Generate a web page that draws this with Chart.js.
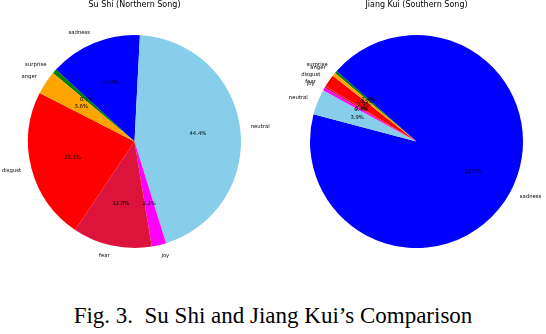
<!DOCTYPE html>
<html>
<head>
<meta charset="utf-8">
<script src="https://cdn.jsdelivr.net/npm/chart.js@4.4.1/dist/chart.umd.min.js"></script>
<style>
  html, body { margin: 0; padding: 0; background: #fff; }
  #wrap { position: relative; width: 546px; height: 334px; overflow: hidden; }
  canvas { position: absolute; top: 0; }
  #left { left: 0; }
  #right { left: 273px; }
  #caption {
    position: absolute; left: 0; width: 546px; top: 303px;
    text-align: center; font-family: "Liberation Serif", "Times New Roman", serif;
    font-size: 23px; color: #000; white-space: pre;
  }
</style>
</head>
<body>
<div id="wrap">
  <canvas id="left" width="273" height="283"></canvas>
  <canvas id="right" width="273" height="283"></canvas>
  <div id="caption">Fig. 3.  Su Shi and Jiang Kui’s Comparison</div>
</div>
<script>
// emotion categories (alphabetical, counter-clockwise from 140deg like the source figure)
const emotions = ['anger', 'disgust', 'fear', 'joy', 'neutral', 'sadness', 'surprise'];
const emotionColors = ['#FFA500', '#FF0000', '#DC143C', '#FF00FF', '#87CEEB', '#0000FF', '#008000'];

// share of each emotion, percent
const suShiShares = [3.6, 23.1, 12.0, 2.2, 44.4, 14.0, 0.7];
const jiangKuiShares = [0.5, 1.9, 0.3, 0.4, 3.9, 92.6, 0.4];

const suShiTitle = 'Su Shi (Northern Song)';
const jiangKuiTitle = 'Jiang Kui (Southern Song)';

// outside names at 1.1r, percentages at 0.6r
const sliceLabels = {
  id: 'sliceLabels',
  afterDatasetsDraw(chart) {
    const ctx = chart.ctx;
    const meta = chart.getDatasetMeta(0);
    ctx.save();
    ctx.fillStyle = '#000';
    ctx.textBaseline = 'middle';
    ctx.font = '5.3px "DejaVu Sans"';
    meta.data.forEach((arc, i) => {
      const p = arc.getProps(['x', 'y', 'startAngle', 'endAngle', 'outerRadius'], true);
      const mid = (p.startAngle + p.endAngle) / 2;
      const c = Math.cos(mid), s = Math.sin(mid);
      ctx.textAlign = c >= 0 ? 'left' : 'right';
      ctx.fillText(chart.data.labels[i], p.x + c * p.outerRadius * 1.1, p.y + s * p.outerRadius * 1.1);
      ctx.textAlign = 'center';
      const v = chart.data.datasets[0].data[i];
      ctx.fillText(v.toFixed(1) + '%', p.x + c * p.outerRadius * 0.6, p.y + s * p.outerRadius * 0.6);
    });
    ctx.restore();
  }
};

function makePie(canvasId, title, shares, padLeft, padRight) {
  const ctx = document.getElementById(canvasId);
  // Chart.js goes clockwise, so reverse the order
  const labels = emotions.slice().reverse();
  const data = shares.slice().reverse();
  const colors = emotionColors.slice().reverse();

  return new Chart(ctx, {
    type: 'pie',
    data: {
      labels: labels,
      datasets: [{
        data: data,
        backgroundColor: colors,
        borderWidth: 0
      }]
    },
    options: {
      responsive: false,
      animation: false,
      devicePixelRatio: 1,
      rotation: -50,
      layout: {
        padding: { left: padLeft, right: padRight, top: 0, bottom: 35 }
      },
      plugins: {
        legend: { display: false },
        tooltip: { enabled: false },
        title: {
          display: true,
          text: title,
          color: '#000',
          font: { family: 'DejaVu Sans', size: 8, weight: 'normal' },
          padding: { top: 0, bottom: 25.4 }
        }
      }
    },
    plugins: [sliceLabels]
  });
}

makePie('left', suShiTitle, suShiShares, 28, 32);
makePie('right', jiangKuiTitle, jiangKuiShares, 37, 23);
</script>
</body>
</html>
